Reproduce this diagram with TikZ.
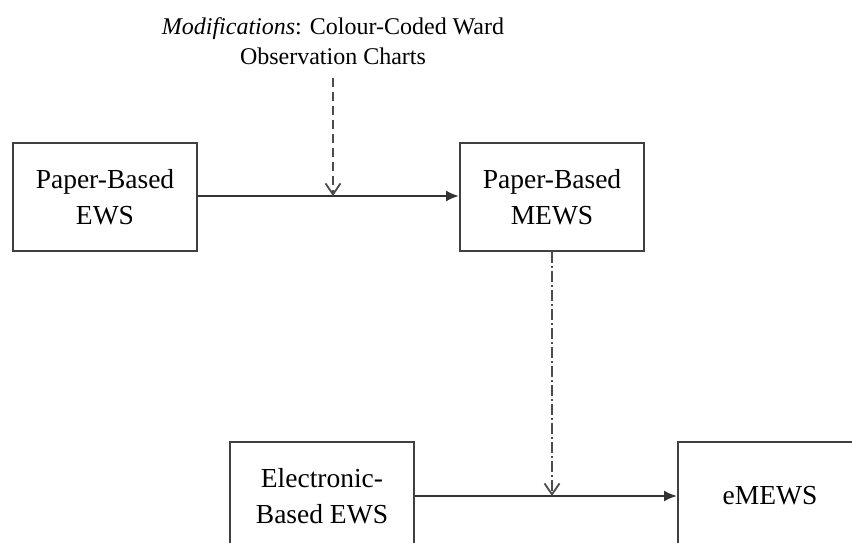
\documentclass[tikz,border=0pt]{standalone}
\usepackage{fontspec}
\setmainfont{Liberation Serif}
\usetikzlibrary{arrows.meta}
\begin{document}
\begin{tikzpicture}[x=1pt,y=-1pt,
  boxnode/.style={draw=black!75,line width=2pt,minimum width=184pt,minimum height=108pt,inner sep=0pt,align=center,font=\fontsize{27.5}{36}\selectfont},
  solidarrow/.style={draw=black!80,line width=2pt,-{Latex[length=13pt,width=11pt]}},
  modarrow/.style={draw=black!70,line width=2pt,dash pattern=on 9pt off 5pt,-{Straight Barb[length=11pt,width=15pt,line width=1.8pt]}},
  dotarrow/.style={draw=black!70,line width=2pt,dash pattern=on 11pt off 3pt on 2pt off 3pt,-{Straight Barb[length=11pt,width=15pt,line width=1.8pt]}}]
\useasboundingbox (0,0) rectangle (852,543);
\clip (0,0) rectangle (852,543);
\fill[white] (0,0) rectangle (852,543);
\node[boxnode] (pews) at (105,197) {Paper-Based\\EWS};
\node[boxnode] (pmews) at (552,197) {Paper-Based\\MEWS};
\node[boxnode] (eews) at (322,496) {Electronic-\\Based EWS};
\node[boxnode] (emews) at (770,496) {eMEWS};
\node[align=center,font=\fontsize{24}{30}\selectfont,inner sep=0pt] (mod) at (333,41) {\textit{Modifications}: Colour-Coded Ward\\Observation Charts};
\coordinate (j1) at (333,196);
\coordinate (j2) at (552,496);
\coordinate (m1) at (333,78);
\draw[solidarrow] (pews.east |- j1) -- (pmews.west |- j1);
\draw[modarrow] (m1) -- (j1);
\draw[solidarrow] (eews.east |- j2) -- (emews.west |- j2);
\draw[dotarrow] (pmews.south -| j2) -- (j2);
\end{tikzpicture}
\end{document}
